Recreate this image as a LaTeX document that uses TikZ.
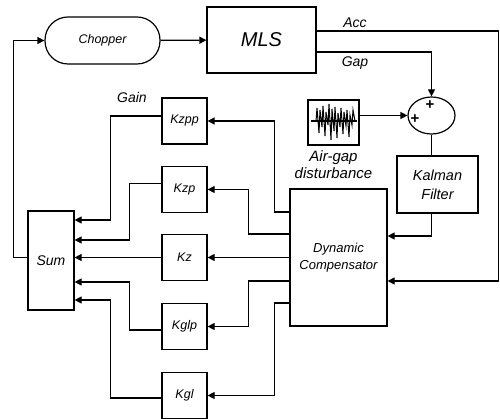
\documentclass[tikz,border=0pt]{standalone}
\usepackage{fontspec}
\setmainfont{Liberation Sans}
\usetikzlibrary{arrows.meta,positioning,shapes.geometric}

\begin{document}
\begin{tikzpicture}[x=1pt,y=-1pt,line width=1.2pt,
    arr/.style={-{Triangle[length=7pt,width=7pt]}},
    blk/.style={draw,inner sep=0pt,font=\itshape},
    gainblk/.style={blk,minimum width=45pt,minimum height=46pt,font=\fontsize{12.5}{14}\selectfont\itshape},
    lbl/.style={inner sep=0pt,font=\fontsize{14}{16}\selectfont\itshape}]
    \useasboundingbox (0,0) rectangle (500,419);
    % plant side
    \node[blk,rounded corners=23pt,minimum width=115pt,minimum height=47pt,font=\fontsize{12.5}{14}\selectfont\itshape] (chop) at (102.5,40.5) {Chopper};
    \node[blk,minimum width=109pt,minimum height=66pt,font=\fontsize{20}{22}\selectfont\itshape] (mls) at (261.5,40) {MLS};
    \node[draw,ellipse,inner sep=0pt,minimum width=47pt,minimum height=37pt] (sumc) at (431.5,115.5) {};
    \node[font=\bfseries\fontsize{15}{15}\selectfont,inner sep=0pt] (plusa) at (430,105) {+};
    \node[font=\bfseries\fontsize{15}{15}\selectfont,inner sep=0pt] (plusb) at (415,119) {+};
    \node[blk,minimum width=51pt,minimum height=45pt] (noise) at (333.5,122.5) {};
    \node[lbl,font=\fontsize{15}{17}\selectfont\itshape,align=center,below=4pt of noise] (dist) {Air-gap\\disturbance};
    \node[blk,minimum width=81pt,minimum height=57pt,align=center,font=\fontsize{14.5}{19}\selectfont\itshape] (kal) at (437.5,184.5) {Kalman\\Filter};
    \node[blk,minimum width=97pt,minimum height=137pt,align=center,font=\fontsize{13}{17}\selectfont\itshape] (dc) at (338.5,257.5) {Dynamic\\Compensator};
    % gains
    \node[gainblk] (kzpp) at (184.5,121) {Kzpp};
    \node[gainblk] (kzp) at (184.5,189.5) {Kzp};
    \node[gainblk] (kz) at (184.5,257.5) {Kz};
    \node[gainblk] (kglp) at (184.5,326.5) {Kglp};
    \node[gainblk] (kgl) at (184.5,395.5) {Kgl};
    \node[blk,minimum width=46pt,minimum height=99pt,font=\fontsize{14}{16}\selectfont\itshape] (sum) at (51,260.5) {Sum};
    % labels
    \node[lbl] (acc) at (355,23) {Acc};
    \node[lbl] (gap) at (355,63) {Gap};
    \node[lbl] (gain) at (132,97) {Gain};

    % noise signal
    \draw (311,121) -- (357,121);
    \draw[line width=1pt] (316,121) -- (317,108) -- (319,133) -- (320,110) -- (322,127) -- (323,106) -- (325,136) -- (326,112) -- (328,125) -- (329,104) -- (331,140) -- (332,109) -- (334,131) -- (335,107) -- (337,138) -- (338,113) -- (340,127) -- (341,108) -- (343,134) -- (344,112) -- (346,126) -- (347,110) -- (349,137) -- (350,115) -- (352,125) -- (353,110) -- (355,121);

    % connections
    \draw[arr] (chop) -- (mls);
    \draw[arr] ([yshift=9pt]mls.east) -- ++(182,0) |- ([yshift=-23.5pt]dc.east);
    \draw[arr] ([yshift=-12pt]mls.east) -| (sumc.north);
    \draw[arr] (noise.east |- sumc.west) -- (sumc.west);
    \draw (sumc.south) -- (sumc.south |- kal.north);
    \draw[arr] (sumc.south |- kal.south) |- ([yshift=21.5pt]dc.east);

    \draw[arr] ([yshift=45.5pt]dc.west) -- ++(-15,0) |- (kzpp.east);
    \draw[arr] ([yshift=23.5pt]dc.west) -- ++(-41,0) |- (kzp.east);
    \draw[arr] (dc.west) -- (kz.east);
    \draw[arr] ([yshift=-23.5pt]dc.west) -- ++(-41,0) |- (kglp.east);
    \draw[arr] ([yshift=-45.5pt]dc.west) -- ++(-15,0) |- (kgl.east);

    \draw[arr] ([yshift=5pt]kzpp.west) -- ++(-51,0) |- ([yshift=40.5pt]sum.east);
    \draw[arr] ([yshift=6pt]kzp.west) -- ++(-32,0) |- ([yshift=20.5pt]sum.east);
    \draw[arr] (kz.west) -- (kz.west -| sum.east);
    \draw[arr] ([yshift=-3.5pt]kglp.west) -- ++(-32,0) |- ([yshift=-21.5pt]sum.east);
    \draw[arr] ([yshift=-2.5pt]kgl.west) -- ++(-51,0) |- ([yshift=-39.5pt]sum.east);

    \draw[arr] ([yshift=3pt]sum.west) -- ++(-14,0) |- (chop.west);
\end{tikzpicture}
\end{document}
